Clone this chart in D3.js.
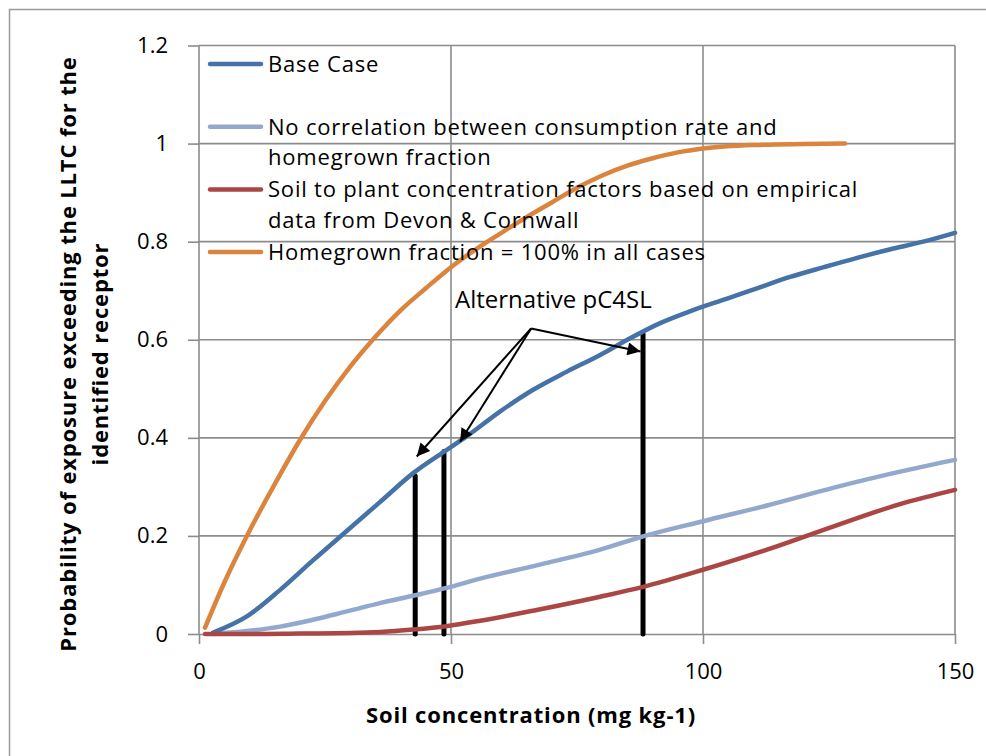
<!DOCTYPE html>
<html>
  <head>
    <meta charset="utf-8">
    <script src="https://d3js.org/d3.v7.min.js"></script>
    <style>
      body { margin: 0; background: #fff; }
      text { font-family: "Open Sans", Lato, sans-serif; fill: #000; }
    </style>
  </head>
  <body>
    <div id="chart"></div>
    <script type="text/javascript">

      // soil concentration (mg kg-1) and probability for each case
      var baseX = [2.8, 9.5, 16.1, 22.6, 29.3, 35.9, 42.5, 49.1, 53.1, 59.5, 66.3, 73, 79.6, 85, 91.5, 97.4, 104.8, 111, 117.3, 124, 130.6, 137, 143.7, 150];
      var baseY = [0.003, 0.036, 0.09, 0.15, 0.21, 0.269, 0.328, 0.375, 0.403, 0.452, 0.498, 0.535, 0.569, 0.6, 0.634, 0.658, 0.684, 0.706, 0.728, 0.748, 0.767, 0.784, 0.8, 0.818];

      var noCorrX = [2.8, 9.5, 16.1, 22.6, 29.3, 35.9, 42.5, 49.1, 55.8, 67, 79.6, 88.1, 100, 112.7, 125.8, 139.1, 150];
      var noCorrY = [0, 0.006, 0.015, 0.029, 0.046, 0.063, 0.078, 0.094, 0.113, 0.14, 0.172, 0.199, 0.23, 0.262, 0.298, 0.331, 0.355];

      var soilX = [1.2, 10, 20, 30, 36, 42.5, 49.1, 55.8, 67, 79.6, 88.1, 100, 112.7, 125.8, 139.1, 150];
      var soilY = [0, 0, 0.001, 0.002, 0.004, 0.009, 0.016, 0.027, 0.049, 0.076, 0.096, 0.131, 0.172, 0.219, 0.265, 0.294];

      var homeX = [1.2, 4.8, 9.5, 15, 20, 25, 30, 35, 40, 45, 50, 55, 60, 65, 70, 75, 80, 85, 90, 95, 100, 110, 120, 128.2];
      var homeY = [0.013, 0.1, 0.2, 0.305, 0.395, 0.475, 0.545, 0.606, 0.66, 0.705, 0.748, 0.785, 0.818, 0.85, 0.88, 0.91, 0.935, 0.955, 0.97, 0.982, 0.99, 0.997, 0.999, 1.0];

      // alternative pC4SL markers
      var pc4slX = [42.9, 48.6, 88.1];
      var pc4slY = [0.322, 0.372, 0.611];
      var arrowFrom = [65.9, 0.623];
      var arrowToX = [43.2, 51.8, 87.6];
      var arrowToY = [0.362, 0.392, 0.576];

      var xTicks = [0, 50, 100, 150];
      var yTicks = [0, 0.2, 0.4, 0.6, 0.8, 1, 1.2];

      var seriesNames = [
        ["Base Case"],
        ["No correlation between consumption rate and", "homegrown fraction"],
        ["Soil to plant concentration factors based on empirical", "data from Devon & Cornwall"],
        ["Homegrown fraction = 100% in all cases"]
      ];
      var colors = ["#4572A7", "#92A8CD", "#AA4643", "#DB843D"];

      var width = 986, height = 756;
      var svg = d3.select("#chart").append("svg")
        .attr("width", width)
        .attr("height", height);

      svg.append("rect")
        .attr("x", 9.5).attr("y", 9.5)
        .attr("width", 1000).attr("height", 800)
        .attr("fill", "#fff")
        .attr("stroke", "#9a9a9a")
        .attr("stroke-width", 1.5);

      var x = d3.scaleLinear().domain([0, 150]).range([199, 955]);
      var y = d3.scaleLinear().domain([0, 1.2]).range([634, 45.5]);

      // gridlines
      svg.append("g").selectAll("line.h")
        .data(yTicks.slice(1))
        .enter().append("line")
        .attr("x1", x(0)).attr("x2", x(150))
        .attr("y1", function(d) { return y(d); })
        .attr("y2", function(d) { return y(d); })
        .attr("stroke", "#8c8c8c").attr("stroke-width", 1.6);

      svg.append("g").selectAll("line.v")
        .data(xTicks.slice(1))
        .enter().append("line")
        .attr("x1", function(d) { return x(d); })
        .attr("x2", function(d) { return x(d); })
        .attr("y1", y(1.2)).attr("y2", y(0))
        .attr("stroke", "#8c8c8c").attr("stroke-width", 1.6);

      // axes
      var yAxis = svg.append("g")
        .attr("transform", "translate(" + x(0) + ",0)")
        .call(d3.axisLeft(y).tickValues(yTicks).tickSize(11).tickPadding(20)
          .tickFormat(function(d) { return d3.format("")(+d.toFixed(1)); }));
      var xAxis = svg.append("g")
        .attr("transform", "translate(0," + y(0) + ")")
        .call(d3.axisBottom(x).tickValues(xTicks).tickSize(10).tickPadding(19).tickSizeOuter(0));

      [xAxis, yAxis].forEach(function(a) {
        a.selectAll("path.domain").attr("stroke", "#8c8c8c").attr("stroke-width", 1.6);
        a.selectAll(".tick line").attr("stroke", "#8c8c8c").attr("stroke-width", 1.6);
        a.selectAll(".tick text")
          .attr("font-family", "'Open Sans', sans-serif")
          .attr("font-size", 22)
          .attr("fill", "#000");
      });
      yAxis.select("path.domain").attr("d", "M0," + y(0) + "V" + y(1.2));

      // series lines
      var line = d3.line()
        .x(function(d) { return x(d[0]); })
        .y(function(d) { return y(d[1]); })
        .curve(d3.curveMonotoneX);

      var series = [
        d3.zip(baseX, baseY),
        d3.zip(noCorrX, noCorrY),
        d3.zip(soilX, soilY),
        d3.zip(homeX, homeY)
      ];
      var drawOrder = [3, 1, 0, 2];

      // vertical pC4SL bars
      svg.append("g").selectAll("line")
        .data(d3.zip(pc4slX, pc4slY))
        .enter().append("line")
        .attr("x1", function(d) { return x(d[0]); })
        .attr("x2", function(d) { return x(d[0]); })
        .attr("y1", y(0))
        .attr("y2", function(d) { return y(d[1]); })
        .attr("stroke", "#000")
        .attr("stroke-width", 5)
        .attr("stroke-linecap", "round");

      svg.append("g").selectAll("path")
        .data(drawOrder)
        .enter().append("path")
        .attr("d", function(i) { return line(series[i]); })
        .attr("fill", "none")
        .attr("stroke", function(i) { return colors[i]; })
        .attr("stroke-width", 4.5)
        .attr("stroke-linecap", "round")
        .attr("stroke-linejoin", "round");

      // arrows
      svg.append("defs").append("marker")
        .attr("id", "head")
        .attr("viewBox", "0 0 10 10")
        .attr("refX", 10).attr("refY", 5)
        .attr("markerWidth", 8).attr("markerHeight", 6.5)
        .attr("markerUnits", "strokeWidth")
        .attr("orient", "auto")
        .append("path")
        .attr("d", "M0,0L10,5L0,10Z")
        .attr("fill", "#000");

      svg.append("g").selectAll("line")
        .data(d3.zip(arrowToX, arrowToY))
        .enter().append("line")
        .attr("x1", x(arrowFrom[0]))
        .attr("y1", y(arrowFrom[1]))
        .attr("x2", function(d) { return x(d[0]); })
        .attr("y2", function(d) { return y(d[1]); })
        .attr("stroke", "#000")
        .attr("stroke-width", 2)
        .attr("marker-end", "url(#head)");

      svg.append("text")
        .attr("x", x(50.8))
        .attr("y", y(0.665))
        .attr("font-family", "'Liberation Sans', Arial, sans-serif")
        .attr("font-size", 24)
        .text("Alternative pC4SL");

      // legend
      var legend = svg.append("g").selectAll("g")
        .data(seriesNames)
        .enter().append("g")
        .attr("transform", function(d, i) { return "translate(0," + (64 + i * 62.7) + ")"; });

      legend.append("line")
        .attr("x1", 210).attr("x2", 261)
        .attr("y1", 0).attr("y2", 0)
        .attr("stroke", function(d, i) { return colors[i]; })
        .attr("stroke-width", 4.5)
        .attr("stroke-linecap", "round");

      legend.selectAll("text")
        .data(function(d) { return d; })
        .enter().append("text")
        .attr("x", 268)
        .attr("y", function(d, j) { return 8 + j * 30.5; })
        .attr("font-size", 22)
        .attr("letter-spacing", 0.8)
        .text(function(d) { return d; });

      // axis titles
      svg.append("text")
        .attr("x", 531).attr("y", 723)
        .attr("text-anchor", "middle")
        .attr("font-weight", "bold")
        .attr("font-size", 22)
        .attr("letter-spacing", 0.85)
        .text("Soil concentration  (mg kg-1)");

      var yTitle = svg.append("text")
        .attr("transform", "translate(68,354) rotate(-90)")
        .attr("text-anchor", "middle")
        .attr("font-weight", "bold")
        .attr("font-size", 22)
        .attr("letter-spacing", 0.85);
      yTitle.append("tspan").attr("x", 0).attr("y", 8)
        .text("Probability of exposure exceeding the LLTC for the");
      yTitle.append("tspan").attr("x", 0).attr("y", 40)
        .text("identified receptor");

    </script>
  </body>
</html>
